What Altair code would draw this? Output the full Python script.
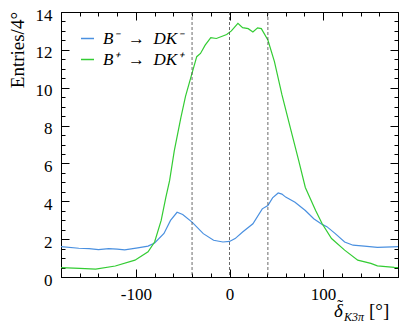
import altair as alt
import pandas as pd

# ---- data ----
blue_label = "B⁻\u2002→\u2002DK⁻"
green_label = "B⁺\u2002→\u2002DK⁺"

blue_x = [-180, -161, -150, -140, -129, -120, -112, -98, -87, -80, -70, -63, -56, -50, -40,
          -28, -17, -7, 0, 6, 14, 25, 35, 41, 46, 52, 56, 60, 70, 81, 90, 99, 104, 113, 123,
          132, 144, 158, 174, 180]
blue_y = [1.60, 1.52, 1.50, 1.45, 1.50, 1.47, 1.43, 1.54, 1.63, 1.80, 2.30, 2.99, 3.42, 3.30, 2.90,
          2.29, 1.94, 1.85, 1.88, 2.03, 2.38, 2.81, 3.60, 3.78, 4.18, 4.44, 4.38, 4.22, 3.95, 3.51,
          3.08, 2.78, 2.66, 2.29, 1.85, 1.68, 1.63, 1.56, 1.59, 1.60]

green_x = [-180, -160, -143, -122, -101, -87, -80, -73, -68, -64, -59, -52, -47, -40, -35, -31,
           -26, -20, -14, -3, 2, 9, 14, 20, 25, 30, 34, 41, 48, 56, 65, 74, 81, 92, 99, 109, 123,
           137, 151, 158, 176, 180]
green_y = [0.50, 0.46, 0.42, 0.58, 0.89, 1.33, 1.85, 2.99, 4.21, 5.09, 6.66, 8.41, 9.54, 10.77,
           11.64, 11.81, 12.25, 12.65, 12.60, 12.81, 13.00, 13.40, 13.17, 13.12, 12.95, 13.16,
           13.12, 12.52, 11.38, 9.63, 7.88, 6.13, 4.73, 3.51, 2.81, 2.03, 1.42, 0.89, 0.72, 0.59,
           0.51, 0.50]

vlines = [-40, 0, 41]
x_major = [-100, 0, 100]
x_minor = list(range(-180, 181, 20))
y_major = [0, 2, 4, 6, 8, 10, 12, 14]
y_minor = [i * 0.5 for i in range(29)]

BLUE = "#4a90e0"
GREEN = "#33cc33"
FONT = "Liberation Serif"

df = pd.concat([
    pd.DataFrame({"x": blue_x, "y": blue_y, "series": blue_label}),
    pd.DataFrame({"x": green_x, "y": green_y, "series": green_label}),
], ignore_index=True)

xs = alt.Scale(domain=[-180, 180], nice=False, zero=False)
ys = alt.Scale(domain=[0, 14], nice=False, zero=False)

minus_expr = "datum.value < 0 ? '-' + format(-datum.value, 'd') : format(datum.value, 'd')"


def tick_axis(orient, values, size, **kw):
    return alt.Axis(orient=orient, values=values, tickSize=size, offset=-size,
                    domain=False, grid=False, tickColor="black", tickWidth=1, **kw)


main = alt.Chart(df).mark_line(strokeWidth=1.2).encode(
    x=alt.X("x:Q", scale=xs, title="",
            axis=tick_axis("bottom", x_major, 8, labels=True, labelPadding=9,
                           labelFont=FONT, labelFontSize=17, labelColor="black",
                           labelExpr=minus_expr)),
    y=alt.Y("y:Q", scale=ys, title="",
            axis=tick_axis("left", y_major, 8, labels=True, labelPadding=9, labelOffset=3,
                           labelFont=FONT, labelFontSize=17, labelColor="black")),
    color=alt.Color("series:N",
                    scale=alt.Scale(domain=[blue_label, green_label], range=[BLUE, GREEN]),
                    legend=alt.Legend(orient="none", legendX=18, legendY=18, title="",
                                      titlePadding=0, padding=0, symbolType="stroke",
                                      symbolSize=169, symbolStrokeWidth=1.5, labelOffset=7,
                                      rowPadding=3, labelFont=FONT, labelFontSize=17,
                                      labelFontStyle="italic", labelColor="black")),
)

rules = alt.Chart(pd.DataFrame({"v": vlines})).mark_rule(
    color="#444444", strokeWidth=0.8, strokeDash=[3, 2]
).encode(
    x=alt.X("v:Q", scale=xs, title="", axis=tick_axis("bottom", x_minor, 4, labels=False)),
)

top_right_major = alt.Chart(df).mark_line(opacity=0).encode(
    x=alt.X("x:Q", scale=xs, title="", axis=tick_axis("top", x_major, 8, labels=False)),
    y=alt.Y("y:Q", scale=ys, title="", axis=tick_axis("right", y_major, 8, labels=False)),
    detail="series:N",
)

top_right_minor = alt.Chart(df).mark_line(opacity=0).encode(
    x=alt.X("x:Q", scale=xs, title="", axis=tick_axis("top", x_minor, 4, labels=False)),
    y=alt.Y("y:Q", scale=ys, title="", axis=tick_axis("right", y_minor, 4, labels=False)),
    detail="series:N",
)

left_minor = alt.Chart(df).mark_point(opacity=0).encode(
    y=alt.Y("y:Q", scale=ys, title="", axis=tick_axis("left", y_minor, 4, labels=False)),
)

y_title = alt.Chart(pd.DataFrame({"t": ["Entries/4°"]})).mark_text(
    font=FONT, fontSize=19, angle=270, align="right", baseline="middle", color="black"
).encode(x=alt.value(-43), y=alt.value(0), text="t:N")

title_delta = alt.Chart(pd.DataFrame({"t": ["δ"]})).mark_text(
    font=FONT, fontSize=19, fontStyle="italic", align="left", baseline="alphabetic", color="black"
).encode(x=alt.value(273), y=alt.value(305), text="t:N")

title_tilde = alt.Chart(pd.DataFrame({"t": ["˜"]})).mark_text(
    font=FONT, fontSize=17, align="center", baseline="alphabetic", color="black"
).encode(x=alt.value(279), y=alt.value(299), text="t:N")

title_sub = alt.Chart(pd.DataFrame({"t": ["K3π"]})).mark_text(
    font=FONT, fontSize=12, fontStyle="italic", align="left", baseline="alphabetic", color="black"
).encode(x=alt.value(283), y=alt.value(309), text="t:N")

title_unit = alt.Chart(pd.DataFrame({"t": ["[°]"]})).mark_text(
    font=FONT, fontSize=19, align="left", baseline="alphabetic", color="black"
).encode(x=alt.value(308), y=alt.value(305), text="t:N")

chart = alt.layer(
    main, rules, top_right_major, top_right_minor, left_minor,
    y_title, title_delta, title_tilde, title_sub, title_unit
).resolve_axis(
    x="independent", y="independent"
).properties(
    width=337, height=265,
    autosize=alt.AutoSizeParams(type="none"),
    padding={"left": 53, "top": 4, "right": 1, "bottom": 48},
    background="white",
).configure_view(
    stroke="black", strokeWidth=1
)

chart.save("out.html", embed_options={"renderer": "svg", "actions": False})
